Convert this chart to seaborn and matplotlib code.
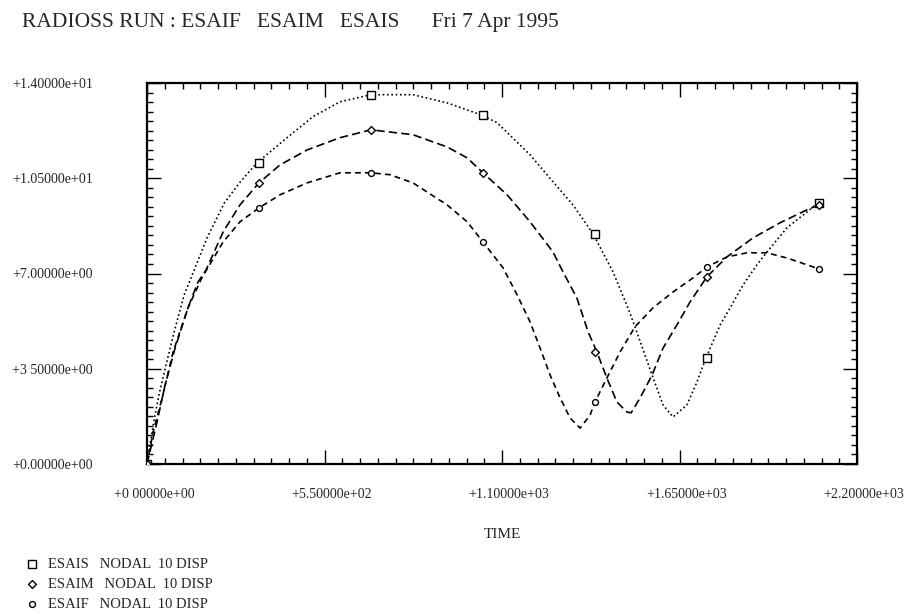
import numpy as np
import pandas as pd
import matplotlib
matplotlib.use('Agg')
import matplotlib.pyplot as plt
import matplotlib.transforms as mtransforms
import seaborn as sns
from matplotlib.ticker import MultipleLocator

# ── Data (time, nodal 10 displacement) ───────────────────────────────────────
esais_t = [0, 9, 22, 37, 59, 84, 115, 149, 186, 240, 288, 341, 434, 514, 598,
           694, 824, 930, 1035, 1085, 1187, 1258, 1320, 1382, 1444, 1490, 1512,
           1565, 1599, 1630, 1673, 1704, 1732, 1776, 1807, 1847, 1890, 1921,
           1983, 2045, 2079]
esais_v = [0.0, 0.70, 1.62, 2.54, 3.64, 4.85, 6.21, 7.21, 8.31, 9.60, 10.35,
           11.07, 11.99, 12.76, 13.31, 13.57, 13.57, 13.27, 12.83, 12.54, 11.36,
           10.37, 9.52, 8.46, 7.06, 5.74, 5.04, 3.27, 2.17, 1.73, 2.17, 3.01,
           3.90, 5.11, 5.74, 6.58, 7.32, 7.79, 8.68, 9.26, 9.60]

esaim_t = [0, 31, 56, 87, 127, 158, 183, 236, 288, 347, 412, 496, 598, 694,
           824, 930, 992, 1041, 1116, 1187, 1258, 1286, 1332, 1367, 1394, 1425,
           1456, 1487, 1500, 1528, 1565, 1599, 1642, 1683, 1735, 1797, 1878,
           1961, 2045, 2082]
esaim_v = [0.0, 1.54, 2.90, 4.26, 5.74, 6.69, 7.13, 8.53, 9.52, 10.33, 10.99,
           11.54, 11.99, 12.28, 12.10, 11.65, 11.25, 10.70, 9.89, 8.90, 7.79,
           7.13, 6.10, 4.85, 4.12, 3.16, 2.28, 1.91, 1.88, 2.43, 3.27, 4.26,
           5.11, 5.96, 6.88, 7.61, 8.31, 8.86, 9.34, 9.52]

esaif_t = [0, 19, 47, 81, 127, 170, 236, 288, 347, 412, 496, 598, 694, 753,
           824, 930, 992, 1041, 1103, 1147, 1187, 1218, 1249, 1280, 1311, 1342,
           1373, 1388, 1425, 1466, 1512, 1568, 1630, 1692, 1735, 1797, 1859,
           1921, 1983, 2045, 2082]
esaif_v = [0.0, 1.18, 2.43, 4.12, 5.74, 6.84, 8.16, 8.90, 9.41, 9.89, 10.33,
           10.70, 10.70, 10.63, 10.33, 9.52, 8.90, 8.16, 7.21, 6.21, 5.22, 4.26,
           3.27, 2.43, 1.69, 1.32, 1.80, 2.28, 3.16, 4.12, 5.04, 5.74, 6.32,
           6.84, 7.24, 7.61, 7.76, 7.76, 7.57, 7.32, 7.17]

# output times (markers)
mark_t = [0, 347, 694, 1041, 1388, 1735, 2082]
esais_m = [0.0, 11.07, 13.57, 12.83, 8.46, 3.90, 9.60]
esaim_m = [0.0, 10.33, 12.28, 10.70, 4.12, 6.88, 9.52]
esaif_m = [0.0, 9.41, 10.70, 8.16, 2.28, 7.24, 7.17]

x_ticks = [0, 550, 1100, 1650, 2200]
x_labels = ['+0 00000e+00', '+5.50000e+02', '+1.10000e+03', '+1.65000e+03',
            '+2.20000e+03']
y_ticks = [0, 3.5, 7, 10.5, 14]
y_labels = ['+0.00000e+00', '+3 50000e+00', '+7.00000e+00', '+1.05000e+01',
            '+1.40000e+01']

series = [
    ('ESAIS   NODAL  10 DISP', esais_t, esais_v, esais_m, 's', 38, (0, (1, 1.6))),
    ('ESAIM   NODAL  10 DISP', esaim_t, esaim_v, esaim_m, 'D', 16, (0, (5, 2.5))),
    ('ESAIF   NODAL  10 DISP', esaif_t, esaif_v, esaif_m, 'o', 18, (0, (3.5, 2.5))),
]

# ── Plot ─────────────────────────────────────────────────────────────────────
sns.set_style('ticks')
plt.rcParams['font.family'] = ['Liberation Serif', 'DejaVu Serif']

fig = plt.figure(figsize=(9.14, 6.14), dpi=100)
ax = fig.add_axes([147 / 914, 150 / 614, 710 / 914, 381 / 614])

handles = []
for name, t, v, m, mk, sz, ls in series:
    sns.lineplot(x=t, y=v, ax=ax, color='black', lw=1.2, linestyle=ls,
                 sort=False, estimator=None)
    sns.scatterplot(x=mark_t, y=m, ax=ax, marker=mk, s=sz,
                    color='black', facecolor='white',
                    edgecolor='black', linewidth=1.0, zorder=5)
    handles.append(ax.collections[-1])

ax.set_xlim(0, 2200)
ax.set_ylim(0, 14)
ax.set_xticks(x_ticks)
ax.set_xticklabels(x_labels)
ax.set_yticks(y_ticks)
ax.set_yticklabels(y_labels)
ax.xaxis.set_minor_locator(MultipleLocator(55))
ax.yaxis.set_minor_locator(MultipleLocator(0.35))

ax.tick_params(which='both', direction='in', top=True, right=True,
               color='black', width=1.0)
ax.tick_params(which='major', length=10)
ax.tick_params(which='minor', length=4)
ax.tick_params(axis='y', which='major', labelsize=10, pad=97)
ax.tick_params(axis='x', which='major', labelsize=10, pad=17)
for lab in ax.get_yticklabels():
    lab.set_horizontalalignment('left')
shift = mtransforms.ScaledTranslation(7 / 100, 0, fig.dpi_scale_trans)
for lab in ax.get_xticklabels():
    lab.set_transform(lab.get_transform() + shift)
for s in ax.spines.values():
    s.set_linewidth(1.6)
    s.set_color('black')

ax.set_xlabel('TIME', fontsize=11, labelpad=20)
ax.set_ylabel('')

fig.text(22 / 914, 1 - 22 / 614, 'RADIOSS RUN : ESAIF   ESAIM   ESAIS      Fri 7 Apr 1995',
         fontsize=15.5, va='center', ha='left')

fig.legend(handles, [s[0] for s in series], loc='upper left',
           bbox_to_anchor=(22 / 914, 1 - 552 / 614), frameon=False,
           handlelength=0.6, handletextpad=0.8, labelspacing=0.45,
           prop={'size': 10.5}, borderaxespad=0)

fig.savefig('out.png', dpi=100)
